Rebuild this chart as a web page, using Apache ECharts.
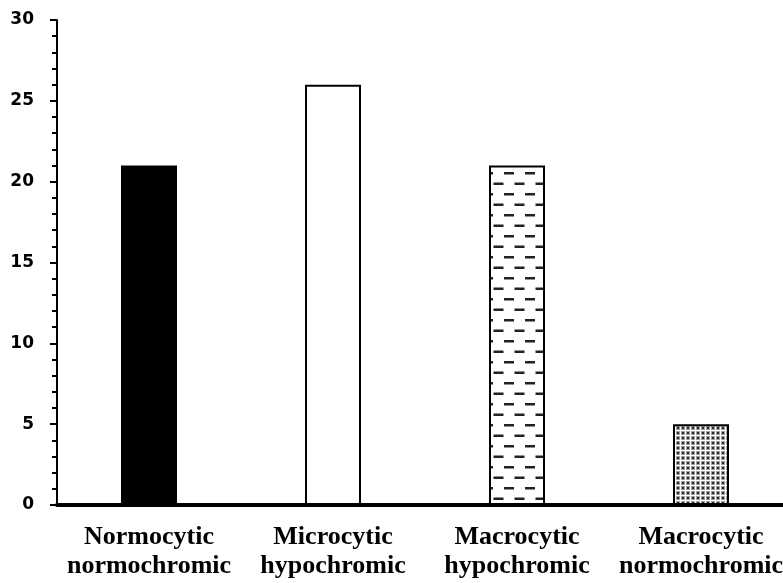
<!DOCTYPE html>
<html>
<head>
<meta charset="utf-8">
<script src="https://cdn.jsdelivr.net/npm/echarts@6/dist/echarts.min.js"></script>
<style>html,body{margin:0;padding:0;background:#fff}#c{width:783px;height:583px}</style>
</head>
<body>
<div id="c"></div>
<script>
const categories = ['Normocytic\nnormochromic', 'Microcytic\nhypochromic', 'Macrocytic\nhypochromic', 'Macrocytic\nnormochromic'];
const values = [21, 26, 21, 5];
const yTicks = [0, 5, 10, 15, 20, 25, 30];
const fills = ['solid', 'white', 'dash', 'dots'];

function dashPattern() {
  const c = document.createElement('canvas');
  c.width = 21; c.height = 21;
  const g = c.getContext('2d');
  g.fillStyle = '#fff'; g.fillRect(0, 0, 21, 21);
  g.fillStyle = '#222';
  g.fillRect(0, 4, 10, 2.5);
  g.fillRect(10.5, 14.5, 10, 2.5);
  return { image: c, repeat: 'repeat' };
}
function dotPattern() {
  const c = document.createElement('canvas');
  c.width = 5; c.height = 5;
  const g = c.getContext('2d');
  g.fillStyle = '#fff'; g.fillRect(0, 0, 5, 5);
  g.fillStyle = '#a0a0a0'; g.fillRect(1, 1, 4, 4);
  g.fillStyle = '#2a2a2a'; g.fillRect(2, 2, 2, 2);
  return { image: c, repeat: 'repeat' };
}
function fillFor(kind) {
  if (kind === 'solid') return '#000';
  if (kind === 'white') return '#fff';
  if (kind === 'dash') return dashPattern();
  return dotPattern();
}

const chart = echarts.init(document.getElementById('c'), null, { renderer: 'canvas' });
chart.setOption({
  animation: false,
  backgroundColor: '#fff',
  grid: { left: 57, top: 20, height: 485, width: 736, containLabel: false, outerBoundsMode: 'none' },
  xAxis: {
    type: 'category',
    data: categories,
    axisLine: { lineStyle: { color: '#000', width: 4 } },
    axisTick: { show: false },
    axisLabel: {
      color: '#000', fontFamily: 'Liberation Serif', fontWeight: 'bold',
      fontSize: 26, lineHeight: 29, margin: 18, interval: 0
    },
    splitLine: { show: false }
  },
  yAxis: {
    type: 'value',
    min: yTicks[0], max: yTicks[yTicks.length - 1], interval: yTicks[1] - yTicks[0],
    axisLine: { show: true, lineStyle: { color: '#000', width: 2 } },
    axisTick: { show: true, length: 7, lineStyle: { color: '#000', width: 2 } },
    minorTick: { show: true, splitNumber: 5, length: 5, lineStyle: { color: '#000', width: 2 } },
    splitLine: { show: false },
    axisLabel: {
      color: '#000', fontFamily: 'DejaVu Sans', fontWeight: 'bold', fontSize: 17, margin: 23
    }
  },
  series: [{
    type: 'bar',
    barWidth: 56,
    data: values.map((v, i) => ({
      value: v,
      itemStyle: { color: fillFor(fills[i]), borderColor: '#000', borderWidth: 2 }
    }))
  }]
});
</script>
</body>
</html>
